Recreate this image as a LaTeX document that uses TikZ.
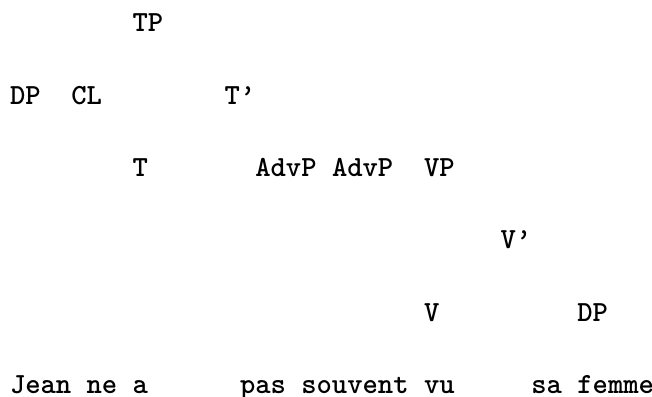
\documentclass[tikz,border=0pt]{standalone}
\usepackage{fontspec}
% dark fixed-pitch face for the whole tree
\newfontfamily\treefont{lmmonolt10-bold.otf}
\begin{document}
% Bracket-free syntax tree set on a fixed-pitch grid:
% one unit in x is one character cell, one unit in y is one tree level.
\begin{tikzpicture}[x=11.5pt,y=-54.2pt,
  lbl/.style={inner sep=0pt, outer sep=0pt, anchor=base west,
    font=\fontsize{21.9pt}{26pt}\selectfont\treefont}]
\useasboundingbox (-7.5pt,24pt) rectangle ++(489pt,-297pt);
% level 0
\node[lbl] (tp)    at (8,0)  {TP};
% level 1
\node[lbl] (dps)   at (0,1)  {DP};
\node[lbl] (cl)    at (4,1)  {CL};
\node[lbl] (tbar)  at (14,1) {T’};
% level 2
\node[lbl] (t)     at (8,2)  {T};
\node[lbl] (advpa) at (16,2) {AdvP};
\node[lbl] (advpb) at (21,2) {AdvP};
\node[lbl] (vp)    at (27,2) {VP};
% level 3
\node[lbl] (vbar)  at (32,3) {V’};
% level 4
\node[lbl] (v)     at (27,4) {V};
\node[lbl] (dpo)   at (37,4) {DP};
% words
\node[lbl] (jean)    at (0,5)  {Jean};
\node[lbl] (ne)      at (5,5)  {ne};
\node[lbl] (a)       at (8,5)  {a};
\node[lbl] (pas)     at (15,5) {pas};
\node[lbl] (souvent) at (19,5) {souvent};
\node[lbl] (vu)      at (27,5) {vu};
\node[lbl] (sa)      at (34,5) {sa};
\node[lbl] (femme)   at (37,5) {femme};
\end{tikzpicture}
\end{document}
